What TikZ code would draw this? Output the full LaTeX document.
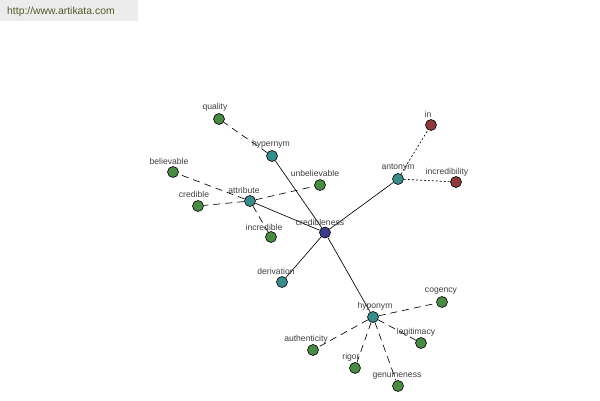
\documentclass[tikz,border=0pt]{standalone}
\usepackage{fontspec}
\setmainfont{Liberation Sans}
\definecolor{teal1}{RGB}{58,140,140}
\definecolor{green1}{RGB}{74,138,68}
\definecolor{red1}{RGB}{140,58,60}
\definecolor{blue1}{RGB}{60,60,140}
\definecolor{lab}{RGB}{64,64,64}
\definecolor{wm}{RGB}{78,92,40}
\definecolor{wmbg}{RGB}{236,236,236}
\tikzset{
  dot/.style={circle,draw=black,line width=0.6pt,inner sep=0pt,minimum size=11pt},
  hub/.style={dot,fill=blue1},
  rel/.style={dot,fill=teal1},
  word/.style={dot,fill=green1},
  anto/.style={dot,fill=red1},
  lbl/.style={text=lab,font=\fontsize{8.6}{10}\selectfont,inner sep=0pt},
  solidedge/.style={draw=black,line width=0.65pt},
  dashedge/.style={draw=black,line width=0.65pt,dash pattern=on 7pt off 5pt},
  dotedge/.style={draw=black,line width=0.65pt,dash pattern=on 2pt off 2pt}
}
\begin{document}
\begin{tikzpicture}[x=1pt,y=-1pt]
\useasboundingbox (0,0) rectangle (600,400);
\fill[white] (0,0) rectangle (600,400);
\fill[wmbg] (0,0) rectangle (138,21);
\node[anchor=west,text=wm,font=\fontsize{10.4}{12}\selectfont,inner sep=0pt] (wmark) at (7,12) {http://www.artikata.com};

% nodes
\node[hub] (cred) at (325,232.5) {};
\node[rel] (hyper) at (272,156) {};
\node[rel] (attr) at (250,201) {};
\node[rel] (anton) at (398,179) {};
\node[rel] (deriv) at (282,282) {};
\node[rel] (hypo) at (373,317) {};
\node[word] (quality) at (219,119) {};
\node[word] (believable) at (173,172) {};
\node[word] (credible) at (198,206) {};
\node[word] (unbelievable) at (320,185) {};
\node[word] (incredible) at (271,237) {};
\node[anto] (in) at (431,125) {};
\node[anto] (incredibility) at (456,182) {};
\node[word] (cogency) at (442,302) {};
\node[word] (legitimacy) at (421,343) {};
\node[word] (authenticity) at (313,350) {};
\node[word] (rigor) at (355,368) {};
\node[word] (genuineness) at (398,386) {};

% edges
\draw[solidedge] (cred) -- (hyper);
\draw[solidedge] (cred) -- (attr);
\draw[solidedge] (cred) -- (anton);
\draw[solidedge] (cred) -- (deriv);
\draw[solidedge] (cred) -- (hypo);
\draw[dashedge] (hyper) -- (quality);
\draw[dashedge] (attr) -- (believable);
\draw[dashedge] (attr) -- (credible);
\draw[dashedge] (attr) -- (unbelievable);
\draw[dashedge] (attr) -- (incredible);
\draw[dotedge] (anton) -- (in);
\draw[dotedge] (anton) -- (incredibility);
\draw[dashedge] (hypo) -- (cogency);
\draw[dashedge] (hypo) -- (legitimacy);
\draw[dashedge] (hypo) -- (authenticity);
\draw[dashedge] (hypo) -- (rigor);
\draw[dashedge] (hypo) -- (genuineness);

% labels
\node[lbl] (lcred) at (320,222) {credibleness};
\node[lbl] (lhyper) at (271,144) {hypernym};
\node[lbl] (lattr) at (244,190) {attribute};
\node[lbl] (lanton) at (398,168) {antonym};
\node[lbl] (lderiv) at (276,271) {derivation};
\node[lbl] (lhypo) at (375,306) {hyponym};
\node[lbl] (lquality) at (215,107) {quality};
\node[lbl] (lbelievable) at (169,161) {believable};
\node[lbl] (lcredible) at (194,194) {credible};
\node[lbl] (lunbelievable) at (315,173) {unbelievable};
\node[lbl] (lincredible) at (264,227) {incredible};
\node[lbl] (lin) at (428,114) {in};
\node[lbl] (lincredibility) at (447,172) {incredibility};
\node[lbl] (lcogency) at (441,291) {cogency};
\node[lbl] (llegitimacy) at (416,332) {legitimacy};
\node[lbl] (lauthenticity) at (306,339) {authenticity};
\node[lbl] (lrigor) at (351,357) {rigor};
\node[lbl] (lgenuineness) at (397,375) {genuineness};
\end{tikzpicture}
\end{document}
